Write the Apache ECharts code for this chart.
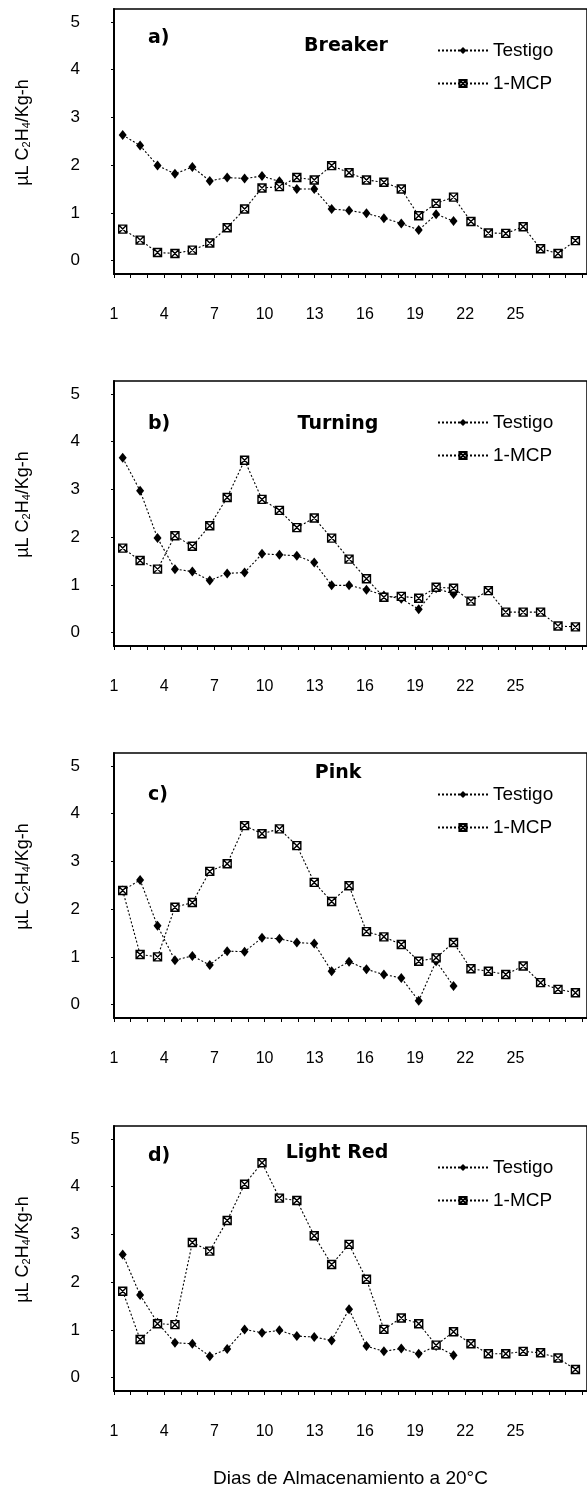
<!DOCTYPE html>
<html><head><meta charset="utf-8">
<script src="https://cdn.jsdelivr.net/npm/echarts@6/dist/echarts.min.js"></script>
<style>html,body{margin:0;padding:0;background:#fff}#c{width:587px;height:1490px}</style>
</head><body><div id="c"></div>
<script>
// ---- data ----
const dayTicks = [1, 4, 7, 10, 13, 16, 19, 22, 25];
const dayTickMarks = [1,2,3,4,5,6,7,8,9,10,11,12,13,14,15,16,17,18,19,20,21,22,23,24,25,26,27,28,29];
const yTicks = [0, 1, 2, 3, 4, 5];
const seriesNames = ['Testigo', '1-MCP'];
const panelTags = ['a)', 'b)', 'c)', 'd)'];
const panelTitles = ['Breaker', 'Turning', 'Pink', 'Light Red'];
const xTitle = 'Dias de Almacenamiento a 20°C';

const aTestigo = [2.63, 2.41, 1.99, 1.82, 1.96, 1.67, 1.74, 1.72, 1.77, 1.66, 1.50, 1.50, 1.08, 1.05, 0.99, 0.89, 0.78, 0.64, 0.97, 0.83];
const aMCP = [0.66, 0.43, 0.17, 0.15, 0.22, 0.37, 0.69, 1.08, 1.52, 1.55, 1.74, 1.69, 1.99, 1.84, 1.69, 1.64, 1.50, 0.94, 1.20, 1.33, 0.82, 0.58, 0.57, 0.71, 0.25, 0.15, 0.42];

const bTestigo = [3.66, 2.97, 1.98, 1.33, 1.28, 1.09, 1.24, 1.26, 1.65, 1.63, 1.61, 1.47, 0.99, 0.99, 0.90, 0.78, 0.71, 0.49, 0.93, 0.81];
const bMCP = [1.77, 1.51, 1.33, 2.03, 1.81, 2.24, 2.83, 3.61, 2.79, 2.56, 2.20, 2.40, 1.98, 1.54, 1.13, 0.74, 0.76, 0.72, 0.95, 0.93, 0.66, 0.88, 0.43, 0.43, 0.43, 0.14, 0.12];

const cTestigo = [2.39, 2.61, 1.65, 0.93, 1.02, 0.83, 1.12, 1.11, 1.40, 1.38, 1.30, 1.28, 0.70, 0.90, 0.74, 0.63, 0.56, 0.08, 0.91, 0.39];
const cMCP = [2.39, 1.05, 1.00, 2.04, 2.14, 2.79, 2.95, 3.75, 3.58, 3.68, 3.33, 2.56, 2.16, 2.49, 1.53, 1.42, 1.26, 0.91, 0.98, 1.30, 0.75, 0.70, 0.63, 0.81, 0.46, 0.32, 0.25];

const dTestigo = [2.58, 1.73, 1.15, 0.73, 0.71, 0.45, 0.60, 1.01, 0.94, 0.99, 0.87, 0.85, 0.78, 1.43, 0.66, 0.55, 0.61, 0.50, 0.66, 0.47];
const dMCP = [1.81, 0.80, 1.13, 1.11, 2.83, 2.65, 3.29, 4.05, 4.50, 3.76, 3.71, 2.97, 2.37, 2.79, 2.06, 1.01, 1.25, 1.13, 0.68, 0.96, 0.71, 0.50, 0.50, 0.55, 0.52, 0.41, 0.17];

const testigoSets = [aTestigo, bTestigo, cTestigo, dTestigo];
const mcpSets = [aMCP, bMCP, cMCP, dMCP];

// ---- layout / style ----
const FONT = '"Liberation Sans", Arial, sans-serif';
const tops = [9, 381, 753, 1126];
const GH = 265, GL = 114, GW = 483;
const dataPx = 17.78, dayPx = 17.08;
const tagOff = [29, 43, 42, 30];
const titleOff = [37, 43, 20, 27];
const titleX = [346, 338, 338, 337];

const grids = [], xAxes = [], yAxes = [], series = [], legends = [], graphics = [];
const mcpSymbol = 'path://M0,0L10,0L10,10L0,10Z M0,0L10,10 M10,0L0,10';

for (let k = 0; k < 4; k++) {
  grids.push({left: GL, top: tops[k], width: GW, height: GH, show: true,
    borderColor: '#000', borderWidth: 1.5, backgroundColor: 'transparent'});
  // data axis (index positions)
  xAxes.push({gridIndex: k, type: 'value', min: 0.5, max: 0.5 + GW / dataPx, show: false});
  // label axis (days)
  const lab = {gridIndex: k, type: 'value', min: 1, max: 1 + GW / dayPx, position: 'bottom',
    axisLine: {show: true, onZero: false, lineStyle: {color: '#000', width: 2}},
    axisTick: {show: true, customValues: dayTickMarks, length: 4, lineStyle: {color: '#000', width: 1}},
    axisLabel: {customValues: dayTicks, margin: 33, fontSize: 16, color: '#000', fontFamily: FONT},
    splitLine: {show: false}};
  if (k === 3) {
    lab.name = xTitle; lab.nameLocation = 'middle'; lab.nameGap = 78;
    lab.nameTextStyle = {fontSize: 19, color: '#000', fontFamily: FONT};
  }
  xAxes.push(lab);
  yAxes.push({gridIndex: k, type: 'value', min: -0.28, max: 5.27,
    axisLine: {show: true, lineStyle: {color: '#000', width: 2}},
    axisTick: {show: true, customValues: yTicks, length: 3, lineStyle: {color: '#000'}},
    axisLabel: {customValues: yTicks, margin: 34, fontSize: 17, color: '#000', fontFamily: FONT},
    splitLine: {show: false},
    name: '{n|µL C}{s|2}{n|H}{s|4}{n|/Kg-h}', nameLocation: 'middle', nameGap: 82,
    nameTextStyle: {padding: [0, 0, 0, 18], rich: {
      n: {fontSize: 18, color: '#000', fontFamily: FONT},
      s: {fontSize: 11, color: '#000', fontFamily: FONT, verticalAlign: 'bottom'}}}});

  series.push({type: 'line', name: seriesNames[0], xAxisIndex: 2 * k, yAxisIndex: k,
    data: testigoSets[k].map((v, i) => [i + 1, v]),
    symbol: 'diamond', symbolSize: [8, 10], itemStyle: {color: '#000'},
    lineStyle: {color: '#000', width: 1.1, type: [2, 2]}, animation: false});
  series.push({type: 'line', name: seriesNames[1], xAxisIndex: 2 * k, yAxisIndex: k,
    data: mcpSets[k].map((v, i) => [i + 1, v]),
    symbol: mcpSymbol, symbolSize: 8, itemStyle: {color: '#fff', borderColor: '#000', borderWidth: 1.4},
    lineStyle: {color: '#000', width: 1.1, type: [2, 2]}, animation: false});

  legends.push({show: true, orient: 'vertical', left: 437, top: tops[k] + 32, padding: 0,
    itemWidth: 50, itemHeight: 9, itemGap: 14, selectedMode: false,
    data: seriesNames, textStyle: {fontSize: 19, color: '#000', fontFamily: FONT}});

  graphics.push({type: 'text', x: 148, y: tops[k] + tagOff[k],
    style: {text: panelTags[k], fill: '#000', font: 'bold 19px "DejaVu Sans"',
      textAlign: 'left', textVerticalAlign: 'middle', align: 'left', verticalAlign: 'middle'}});
  graphics.push({type: 'text', x: titleX[k], y: tops[k] + titleOff[k],
    style: {text: panelTitles[k], fill: '#000', font: 'bold 19px "DejaVu Sans"',
      textAlign: 'center', textVerticalAlign: 'middle', align: 'center', verticalAlign: 'middle'}});
}

const chart = echarts.init(document.getElementById('c'), null, {renderer: 'canvas', width: 587, height: 1490});
chart.setOption({
  backgroundColor: '#fff',
  animation: false,
  grid: grids, xAxis: xAxes, yAxis: yAxes, series: series, legend: legends,
  graphic: {elements: graphics}
});
</script></body></html>
